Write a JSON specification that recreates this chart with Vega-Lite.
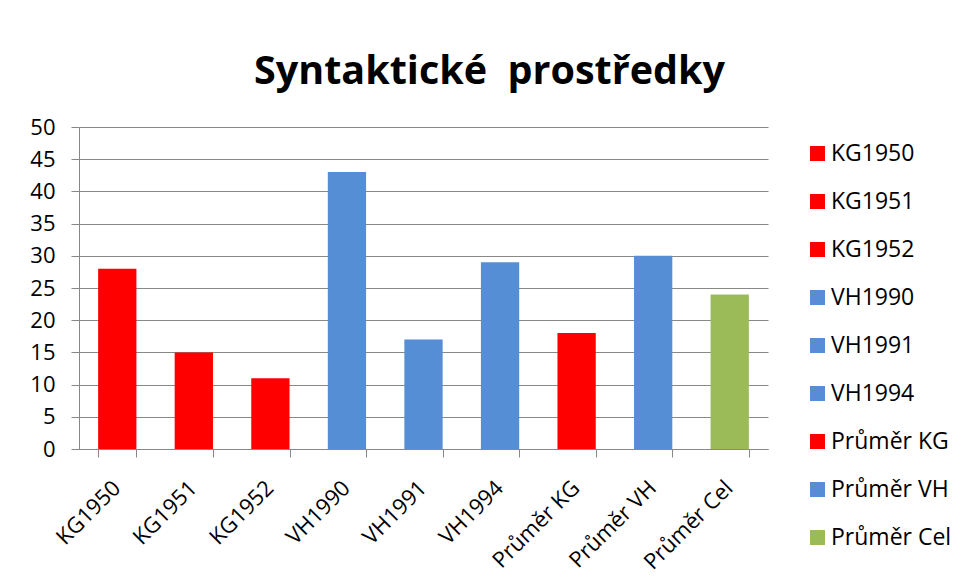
{
  "$schema": "https://vega.github.io/schema/vega-lite/v6.json",
  "autosize": "none",
  "width": 689,
  "height": 322,
  "padding": {"left": 79, "top": 127, "right": 195, "bottom": 137},
  "background": "white",
  "title": {
    "text": "Syntaktické\u00a0 prostředky",
    "anchor": "middle",
    "dx": 66,
    "dy": 46,
    "offset": 39,
    "baseline": "alphabetic",
    "fontSize": 39.5,
    "font": "Open Sans",
    "fontWeight": "bold",
    "color": "#000000"
  },
  "data": {
    "values": [
      {"kategorie": "KG1950", "hodnota": 28},
      {"kategorie": "KG1951", "hodnota": 15},
      {"kategorie": "KG1952", "hodnota": 11},
      {"kategorie": "VH1990", "hodnota": 43},
      {"kategorie": "VH1991", "hodnota": 17},
      {"kategorie": "VH1994", "hodnota": 29},
      {"kategorie": "Průměr KG", "hodnota": 18},
      {"kategorie": "Průměr VH", "hodnota": 30},
      {"kategorie": "Průměr Cel", "hodnota": 24}
    ]
  },
  "mark": {"type": "bar"},
  "encoding": {
    "x": {
      "field": "kategorie",
      "type": "nominal",
      "sort": null,
      "scale": {"paddingInner": 0.5, "paddingOuter": 0.25},
      "axis": {
        "title": null,
        "labelAngle": -45,
        "labelFontSize": 22,
        "labelFont": "Open Sans",
        "labelColor": "#000000",
        "tickBand": "extent",
        "tickSize": 8,
        "tickColor": "#888888",
        "domainColor": "#888888",
        "labelPadding": 20,
        "labelOffset": -8
      }
    },
    "y": {
      "field": "hodnota",
      "type": "quantitative",
      "scale": {"domain": [0, 50]},
      "axis": {
        "title": null,
        "values": [0, 5, 10, 15, 20, 25, 30, 35, 40, 45, 50],
        "labelFontSize": 22,
        "labelFont": "Open Sans",
        "labelColor": "#000000",
        "tickSize": 8,
        "tickColor": "#888888",
        "domainColor": "#888888",
        "gridColor": "#888888",
        "labelPadding": 16
      }
    },
    "color": {
      "field": "kategorie",
      "type": "nominal",
      "sort": null,
      "scale": {
        "domain": ["KG1950", "KG1951", "KG1952", "VH1990", "VH1991", "VH1994", "Průměr KG", "Průměr VH", "Průměr Cel"],
        "range": ["#FF0000", "#FF0000", "#FF0000", "#558ED5", "#558ED5", "#558ED5", "#FF0000", "#558ED5", "#9BBB59"]
      },
      "legend": {
        "title": null,
        "orient": "none",
        "legendX": 727,
        "legendY": 15,
        "symbolType": "square",
        "symbolSize": 225,
        "symbolStrokeWidth": 0,
        "labelFontSize": 23,
        "labelFont": "Open Sans",
        "labelColor": "#000000",
        "rowPadding": 24,
        "labelOffset": 2
      }
    }
  },
  "config": {
    "view": {"stroke": null}
  }
}
